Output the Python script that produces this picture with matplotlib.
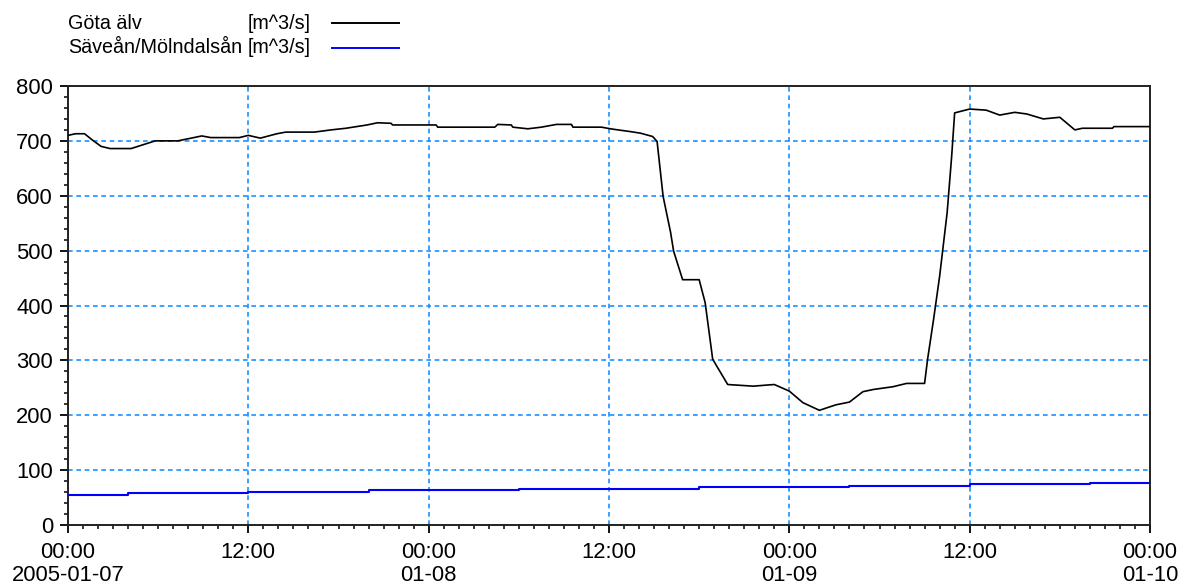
import numpy as np
import matplotlib
matplotlib.use("Agg")
import matplotlib.pyplot as plt
import matplotlib.dates as mdates
from matplotlib.lines import Line2D
from matplotlib.ticker import MultipleLocator, FixedLocator

plt.rcParams['font.family'] = ['Liberation Sans', 'DejaVu Sans']

# Göta älv discharge, hours after 2005-01-07 00:00
gota_hours = [0, 0.5, 1.1, 1.6, 2.2, 2.8, 4.2, 5.0, 5.8, 7.3, 8.2, 8.9, 9.5, 11.4,
              12.0, 12.8, 13.9, 14.5, 16.4, 17.5, 18.5, 19.9, 20.6, 21.5, 21.6, 24.5,
              24.6, 28.4, 28.6, 29.5, 29.6, 30.6, 31.5, 32.5, 33.5, 33.6, 35.5, 36.1,
              36.6, 37.4, 38.1, 38.9, 39.2, 39.6, 40.1, 40.3, 40.9, 42.0, 42.4, 42.9,
              43.9, 45.6, 46.5, 47.0, 48.0, 48.9, 50.0, 51.1, 52.0, 52.9, 53.6, 54.9,
              55.8, 57.0, 57.2, 57.6, 58.0, 58.5, 58.8, 59.0, 60.0, 61.1, 62.0, 63.0,
              63.8, 64.9, 66.0, 67.0, 67.5, 69.5, 69.6, 72.0]
gota_flow = [710, 713, 713, 702, 690, 686, 686, 693, 700, 700, 705, 709, 706, 706,
             710, 705, 713, 716, 716, 720, 723, 729, 733, 732, 729, 729,
             725, 725, 730, 729, 725, 722, 725, 730, 730, 725, 725, 722,
             720, 717, 714, 708, 699, 599, 533, 499, 447, 447, 405, 302,
             256, 253, 255, 256, 244, 223, 209, 219, 224, 243, 247, 252,
             258, 258, 302, 375, 453, 569, 671, 751, 758, 756, 747, 752,
             749, 740, 743, 720, 723, 723, 726, 726]

# Säveån/Mölndalsån discharge (stepwise), hours after 2005-01-07 00:00
save_hours = [0, 4, 12, 20, 30, 42, 52, 60, 68, 72]
save_flow = [55, 58, 60, 63, 66, 68.5, 71.5, 74.5, 77, 77]

series_names = ["Göta älv", "Säveån/Mölndalsån"]
unit = "[m^3/s]"

y_ticks = [0, 100, 200, 300, 400, 500, 600, 700, 800]
x_tick_labels = ["00:00\n2005-01-07", "12:00", "00:00\n01-08", "12:00",
                 "00:00\n01-09", "12:00", "00:00\n01-10"]

start = np.datetime64("2005-01-07T00:00")


def to_time(hours):
    return start + (np.array(hours) * 60).round().astype("timedelta64[m]")


gota_t = to_time(gota_hours)
save_t = to_time(save_hours)

W, H = 1181, 588
fig = plt.figure(figsize=(W / 100, H / 100), dpi=100)
ax = fig.add_axes([68 / W, 1 - 525 / H, (1150 - 68) / W, (525 - 86) / H])

grid_color = "#1E90FF"
ax.plot(gota_t, gota_flow, color="black", lw=1.2, zorder=3)
ax.plot(save_t, save_flow, color="#0000FF", lw=1.5, drawstyle="steps-post", zorder=3)

ax.set_xlim(save_t[0], save_t[-1])
ax.set_ylim(0, 800)

ax.yaxis.set_major_locator(FixedLocator(y_ticks))
ax.yaxis.set_minor_locator(MultipleLocator(20))

major_x = [mdates.date2num(t) for t in to_time([0, 12, 24, 36, 48, 60, 72])]
ax.xaxis.set_major_locator(FixedLocator(major_x))
ax.set_xticklabels(x_tick_labels, linespacing=1.12)
ax.xaxis.set_minor_locator(FixedLocator([mdates.date2num(t) for t in to_time(range(73))]))

ax.grid(True, which="major", color=grid_color, linestyle=(0, (2.8, 2.2)), lw=1.2)

ax.tick_params(axis="both", which="major", direction="out", length=5.8, width=1.3,
               labelsize=15.8, colors="black", pad=5)
ax.tick_params(axis="x", which="major", pad=6.5)
ax.tick_params(axis="both", which="minor", direction="out", length=3.2, width=1.1)
for s in ax.spines.values():
    s.set_linewidth(1.4)
    s.set_color("#222222")

# legend block above the plot
rows = [(29, 23, series_names[0], "black"), (53, 48, series_names[1], "#0000FF")]
for base_px, line_px, name, col in rows:
    yb = 1 - base_px / H
    yl = 1 - line_px / H
    fig.text(68 / W, yb, name, fontsize=14.2, va="baseline", ha="left")
    fig.text(248 / W, yb, unit, fontsize=14.2, va="baseline", ha="left")
    fig.add_artist(Line2D([332 / W, 399 / W], [yl, yl], color=col, lw=1.4,
                          transform=fig.transFigure))

fig.savefig("out.png", dpi=100)
